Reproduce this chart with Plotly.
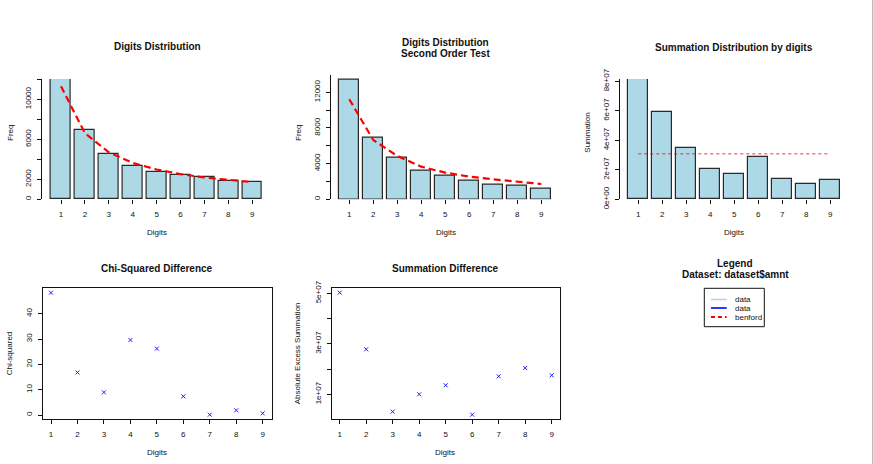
import plotly.graph_objects as go

W, H = 874, 464

# ---------------- data ----------------
digits = [1, 2, 3, 4, 5, 6, 7, 8, 9]

first_freq = [12000, 6930, 4500, 3300, 2700, 2400, 2200, 1870, 1700]
first_benford = [11300, 6620, 4700, 3640, 2980, 2520, 2180, 1920, 1720]

second_freq = [13460, 6950, 4680, 3250, 2620, 2090, 1650, 1570, 1200]
second_benford = [11220, 6650, 4860, 3660, 2990, 2540, 2240, 1980, 1720]

summation = [8.136e7, 5.898e7, 3.458e7, 2.034e7, 1.695e7, 2.870e7, 1.379e7, 1.040e7, 1.333e7]
summation_mean = 3.095e7

chi_squared = [48.3, 16.8, 8.95, 29.6, 26.2, 7.37, 0.13, 1.84, 0.66]
abs_excess_sum = [5.026e7, 2.782e7, 0.314e7, 1.0e7, 1.356e7, 0.195e7, 1.713e7, 2.043e7, 1.752e7]

freq1_ticks = [0, 2000, 4000, 6000, 8000, 10000, 12000]
freq1_text = ["0", "2000", "", "6000", "", "10000", ""]
freq2_ticks = [0, 2000, 4000, 6000, 8000, 10000, 12000, 14000]
freq2_text = ["0", "", "4000", "", "8000", "", "12000", ""]
sum_ticks = [0, 2e7, 4e7, 6e7, 8e7]
sum_text = ["0e+00", "2e+07", "4e+07", "6e+07", "8e+07"]
chi_ticks = [0, 10, 20, 30, 40]
chi_text = ["0", "10", "20", "30", "40"]
abs_ticks = [1e7, 2e7, 3e7, 4e7, 5e7]
abs_text = ["1e+07", "", "3e+07", "", "5e+07"]

# ---------------- styling / layout helpers ----------------
FONT = "Liberation Sans, Arial, sans-serif"
BAR_COLOR = "#ADD8E6"


def xdom(L, R):
    return [L / W, R / W]


def ydom(T, B):
    return [1 - B / H, 1 - T / H]


def xrange_px(L, R, ref_px, ref_val, ppu):
    return [ref_val + (L - ref_px) / ppu, ref_val + (R - ref_px) / ppu]


def yrange_px(T, B, ref_px, ref_val, ppu):
    return [ref_val + (ref_px - B) / ppu, ref_val + (ref_px - T) / ppu]


panels = {
    1: dict(L=41.7, R=271.5, x1=61, sx=23.9, T=79, B=199.3, yref=199.3, yval=0, sy=0.01),
    2: dict(L=331, R=561, x1=349.3, sx=24, T=74.7, B=199.3, yref=199.3, yval=0, sy=17.83 / 2000),
    3: dict(L=620, R=850, x1=638.3, sx=24, T=79, B=199.3, yref=199.3, yval=0, sy=29.5 / 2e7),
    4: dict(L=42.7, R=271.7, x1=51, sx=26.46, T=287.7, B=419.3, yref=415, yval=0, sy=2.533),
    5: dict(L=331.7, R=560, x1=339.7, sx=26.5, T=287.7, B=419.3, yref=394.3, yval=1e7, sy=25.25 / 1e7),
}

fig = go.Figure()

# bars
for i, vals in [(1, first_freq), (2, second_freq), (3, summation)]:
    fig.add_trace(go.Bar(
        x=digits, y=vals, width=0.833,
        marker=dict(color=BAR_COLOR, line=dict(color="#2a2a2a", width=1.2)),
        xaxis=f"x{i}", yaxis=f"y{i}", showlegend=False, hoverinfo="x+y"))

# benford expected lines
for i, vals in [(1, first_benford), (2, second_benford)]:
    fig.add_trace(go.Scatter(
        x=digits, y=vals, mode="lines",
        line=dict(color="#FF0000", width=2.2, dash="7px,4px"),
        xaxis=f"x{i}", yaxis=f"y{i}", showlegend=False))

# mean summation line
fig.add_trace(go.Scatter(
    x=digits, y=[summation_mean] * len(digits), mode="lines",
    line=dict(color="rgba(255,0,0,0.55)", width=1.5, dash="3px,3px"),
    xaxis="x3", yaxis="y3", showlegend=False))

# difference scatter
for i, vals in [(4, chi_squared), (5, abs_excess_sum)]:
    fig.add_trace(go.Scatter(
        x=digits, y=vals, mode="markers",
        marker=dict(symbol="x-thin", size=4, color="#0000FF",
                    line=dict(color="#2020FF", width=1)),
        xaxis=f"x{i}", yaxis=f"y{i}", showlegend=False))

tickfont = dict(family=FONT, size=8, color="#111")
ytick_cfg = {1: (freq1_ticks, freq1_text), 2: (freq2_ticks, freq2_text),
             3: (sum_ticks, sum_text), 4: (chi_ticks, chi_text), 5: (abs_ticks, abs_text)}

layout_axes = {}
for i, p in panels.items():
    boxed = i >= 4
    xa = dict(
        domain=xdom(p["L"], p["R"]),
        range=xrange_px(p["L"], p["R"], p["x1"], 1, p["sx"]),
        anchor=f"y{i}", tickvals=digits, ticktext=[str(d) for d in digits],
        ticks="outside", ticklen=4, tickwidth=1, tickcolor="#111",
        showgrid=False, zeroline=False, tickfont=tickfont,
        showline=boxed, linecolor="#111", linewidth=1, mirror=boxed,
        ticklabelstandoff=3, fixedrange=True, automargin=False,
    )
    tv, tt = ytick_cfg[i]
    ya = dict(
        domain=ydom(p["T"], p["B"]),
        range=yrange_px(p["T"], p["B"], p["yref"], p["yval"], p["sy"]),
        anchor=f"x{i}", tickvals=tv, ticktext=tt, tickangle=-90,
        ticks="outside", ticklen=4, tickwidth=1, tickcolor="#111",
        showgrid=False, zeroline=False, tickfont=tickfont,
        showline=True, linecolor="#111", linewidth=1, mirror=boxed,
        ticklabelstandoff=3, fixedrange=True, automargin=False,
    )
    layout_axes["xaxis" if i == 1 else f"xaxis{i}"] = xa
    layout_axes["yaxis" if i == 1 else f"yaxis{i}"] = ya

annotations = []


def txt(text, x, y, size=8, bold=False, angle=0, xanchor="center"):
    annotations.append(dict(
        text=f"<b>{text}</b>" if bold else text,
        x=x / W, y=1 - y / H, xref="paper", yref="paper",
        xanchor=xanchor, yanchor="middle", showarrow=False, textangle=angle,
        font=dict(family=FONT, size=size, color="#111")))


# titles
txt("Digits Distribution", 157, 47, 10, True)
txt("Digits Distribution", 445, 42.3, 10, True)
txt("Second Order Test", 445, 53.3, 10, True)
txt("Summation Distribution by digits", 734, 47.3, 10, True)
txt("Chi-Squared Difference", 157, 268.3, 10, True)
txt("Summation Difference", 445.7, 268.3, 10, True)
txt("Legend", 735, 263.3, 10, True)
txt("Dataset: dataset$amnt", 735, 274, 10, True)

# axis titles
for x in (157, 445.5, 734):
    txt("Digits", x, 232, 8)
for x in (156.7, 445):
    txt("Digits", x, 452.3, 8)
txt("Freq", 10, 133, 8, angle=-90)
txt("Freq", 298, 133, 8, angle=-90)
txt("Summation", 586.7, 133, 8, angle=-90)
txt("Chi-squared", 9.3, 353, 8, angle=-90)
txt("Absolute Excess Summation", 297.3, 353, 8, angle=-90)

# legend (drawn manually like R's legend box)
legend_items = [("data", "#ADD8E6", "solid", 299.5),
                ("data", "#0000FF", "solid", 308),
                ("benford", "#FF0000", "dash", 317)]
shapes = [dict(type="rect", xref="paper", yref="paper",
               x0=704.3 / W, x1=764.3 / W, y0=1 - 326.7 / H, y1=1 - 288.3 / H,
               line=dict(color="#111", width=1), fillcolor="rgba(0,0,0,0)")]
for label, color, dash, y in legend_items:
    shapes.append(dict(type="line", xref="paper", yref="paper",
                       x0=711 / W, x1=726.7 / W, y0=1 - y / H, y1=1 - y / H,
                       line=dict(color=color, width=1.6 if dash == "solid" else 2,
                                 dash="4px,3px" if dash == "dash" else "solid")))
    txt(label, 733.3, y, 8, xanchor="left")

# device edge line at right
shapes.append(dict(type="line", xref="paper", yref="paper",
                   x0=872.8 / W, x1=872.8 / W, y0=0, y1=1,
                   line=dict(color="#999", width=1)))

fig.update_layout(
    width=W, height=H, margin=dict(l=0, r=0, t=0, b=0, autoexpand=False),
    paper_bgcolor="white", plot_bgcolor="white",
    showlegend=False, annotations=annotations, shapes=shapes,
    bargap=0, **layout_axes)

fig.write_html(
    "out.html",
    config={"displayModeBar": False, "responsive": False},
    post_script="document.body.style.margin='0';document.body.style.overflow='hidden';",
)
